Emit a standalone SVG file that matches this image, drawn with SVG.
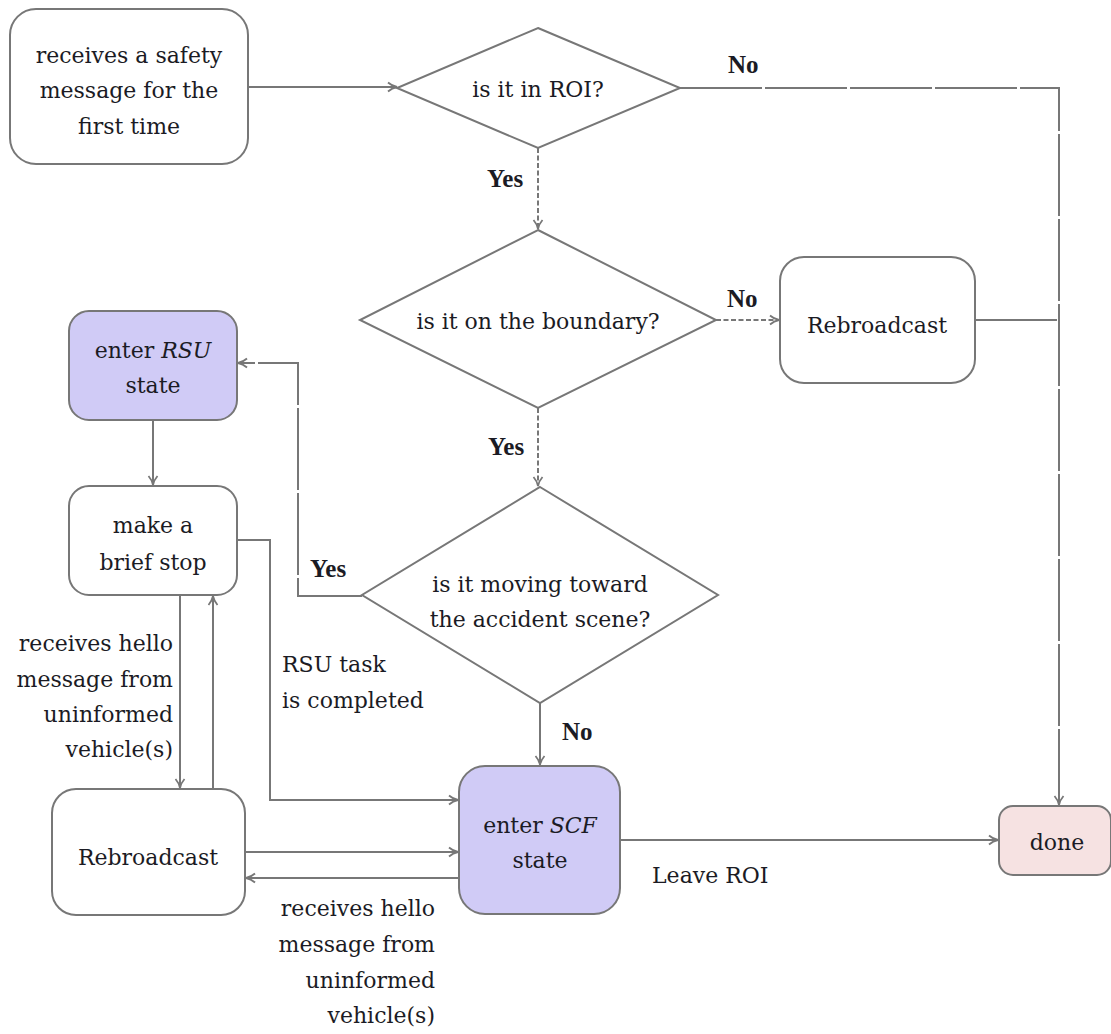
<svg xmlns="http://www.w3.org/2000/svg" width="1111" height="1034" viewBox="0 0 1111 1034">
<style>
  text { font-family: 'DejaVu Serif', 'Liberation Serif', serif; font-size: 22px; fill: #1b1b24; }
  .c { text-anchor: middle; }
  .r { text-anchor: end; }
  .lbl { font-family: 'Liberation Serif', 'DejaVu Serif', serif; font-weight: bold; font-size: 25px; }
  .box { fill: #ffffff; stroke: #777777; stroke-width: 2; }
  .state { fill: #d0cbf6; stroke: #777777; stroke-width: 2; }
  .done { fill: #f6e2e2; stroke: #777777; stroke-width: 2; }
  .dia { fill: #ffffff; stroke: #777777; stroke-width: 2; }
  .ln { fill: none; stroke: #777777; stroke-width: 2; }
  .dash { stroke-dasharray: 5 2.5; }
  .gap { stroke-dasharray: 82 3; }
</style>
<defs>
  <marker id="arr" viewBox="0 0 12 12" refX="11" refY="6" markerWidth="12" markerHeight="12" markerUnits="userSpaceOnUse" orient="auto">
    <path d="M2,1.5 Q6,5 11,6 Q6,7 2,10.5" fill="none" stroke="#777777" stroke-width="1.8"/>
  </marker>
</defs>

<g id="connectors">
  <path class="ln" d="M248,87 L397,87" marker-end="url(#arr)"/>
  <path class="ln dash" d="M538,148 L538,229" marker-end="url(#arr)"/>
  <path class="ln gap" d="M680,88 L1059,88 L1059,805" marker-end="url(#arr)"/>
  <path class="ln dash" d="M716,320 L779,320" marker-end="url(#arr)"/>
  <path class="ln gap" d="M975,320 L1059,320"/>
  <path class="ln dash" d="M538,408 L538,486" marker-end="url(#arr)"/>
  <path class="ln gap" d="M362,596 L298,596 L298,363 L238,363" marker-end="url(#arr)"/>
  <path class="ln gap" d="M540,703 L540,765" marker-end="url(#arr)"/>
  <path class="ln" d="M153,420 L153,485" marker-end="url(#arr)"/>
  <path class="ln" d="M237,540 L270,540 L270,800 L458,800" marker-end="url(#arr)"/>
  <path class="ln" d="M180,595 L180,788" marker-end="url(#arr)"/>
  <path class="ln" d="M213,789 L213,596" marker-end="url(#arr)"/>
  <path class="ln" d="M245,852 L458,852" marker-end="url(#arr)"/>
  <path class="ln" d="M459,878 L246,878" marker-end="url(#arr)"/>
  <path class="ln" d="M620,840 L998,840" marker-end="url(#arr)"/>
</g>

<g id="edge-labels">
  <text class="lbl" x="728" y="73">No</text>
  <text class="lbl" x="487" y="187">Yes</text>
  <text class="lbl" x="727" y="307">No</text>
  <text class="lbl" x="488" y="455">Yes</text>
  <text class="lbl" x="310" y="577">Yes</text>
  <text class="lbl" x="562" y="740">No</text>
  <text x="282" y="672">RSU task</text>
  <text x="282" y="708">is completed</text>
  <text class="r" x="173" y="651">receives hello</text>
  <text class="r" x="173" y="687">message from</text>
  <text class="r" x="173" y="722">uninformed</text>
  <text class="r" x="173" y="757">vehicle(s)</text>
  <text class="r" x="435" y="916">receives hello</text>
  <text class="r" x="435" y="952">message from</text>
  <text class="r" x="435" y="988">uninformed</text>
  <text class="r" x="435" y="1023">vehicle(s)</text>
  <text x="652" y="883">Leave ROI</text>
</g>

<g id="start">
  <rect class="box" x="10" y="9" width="238" height="155" rx="26"/>
  <text class="c" x="129" y="63">receives a safety</text>
  <text class="c" x="129" y="98">message for the</text>
  <text class="c" x="129" y="134">first time</text>
</g>

<g id="roi">
  <polygon class="dia" points="538,28 680,88 538,148 397,88"/>
  <text class="c" x="538" y="97">is it in ROI?</text>
</g>

<g id="boundary">
  <polygon class="dia" points="538,230 716,320 538,408 360,320"/>
  <text class="c" x="538" y="329">is it on the boundary?</text>
</g>

<g id="rebroadcast-top">
  <rect class="box" x="780" y="257" width="195" height="126" rx="24"/>
  <text class="c" x="877" y="333">Rebroadcast</text>
</g>

<g id="moving">
  <polygon class="dia" points="540,487 718,595 540,703 362,595"/>
  <text class="c" x="540" y="592">is it moving toward</text>
  <text class="c" x="540" y="627">the accident scene?</text>
</g>

<g id="rsu">
  <rect class="state" x="69" y="311" width="168" height="109" rx="20"/>
  <text class="c" x="153" y="358">enter <tspan font-style="italic">RSU</tspan></text>
  <text class="c" x="153" y="393">state</text>
</g>

<g id="stop">
  <rect class="box" x="69" y="486" width="168" height="109" rx="20"/>
  <text class="c" x="153" y="533">make a</text>
  <text class="c" x="153" y="570">brief stop</text>
</g>

<g id="rebroadcast-bottom">
  <rect class="box" x="52" y="789" width="193" height="126" rx="24"/>
  <text class="c" x="148" y="865">Rebroadcast</text>
</g>

<g id="scf">
  <rect class="state" x="459" y="766" width="161" height="148" rx="26"/>
  <text class="c" x="540" y="833">enter <tspan font-style="italic">SCF</tspan></text>
  <text class="c" x="540" y="868">state</text>
</g>

<g id="done">
  <rect class="done" x="999" y="806" width="112" height="69" rx="14"/>
  <text class="c" x="1057" y="850">done</text>
</g>
</svg>
